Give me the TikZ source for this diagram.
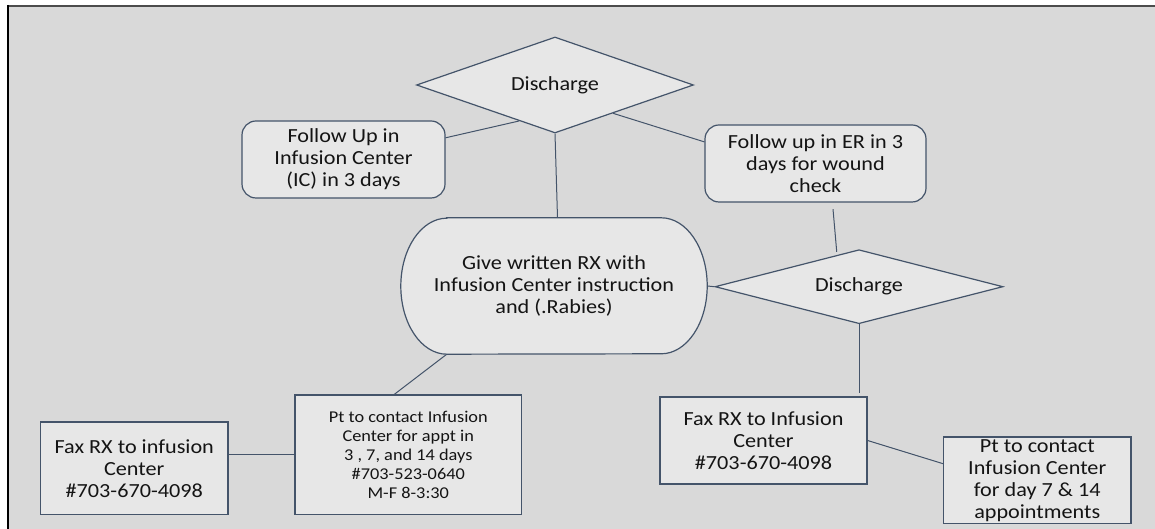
\documentclass[tikz,border=0pt]{standalone}
\usepackage{fontspec}
\setmainfont[FakeStretch=1.11]{Carlito}
\usetikzlibrary{shapes.geometric,backgrounds}
\tikzset{
  shape-line/.style={
    draw=slate,
    line width=1.2pt
  },
  box-rect/.style={
    shape-line,
    fill=boxgray,
    rectangle,
    align=center,
    inner sep=0pt
  },
  box-round/.style={box-rect, rounded corners=14pt},
  box-term/.style={rectangle, align=center, inner sep=0pt},
  box-dec/.style={shape-line, fill=boxgray, diamond, inner sep=0pt},
  small-text/.style={font=\fontsize{16.5}{19}\selectfont},
  link/.style={draw=slate, line width=1pt}
}
\definecolor{pagegray}{RGB}{217,217,217}
\definecolor{boxgray}{RGB}{231,231,231}
\definecolor{slate}{RGB}{68,84,106}
\definecolor{inkgray}{RGB}{20,20,20}

\begin{document}
\begin{tikzpicture}[x=1pt, y=1pt, font=\fontsize{20}{22}\selectfont, text=inkgray]
  \useasboundingbox (0,0) rectangle (1155,529);

  % Frame
  \begin{pgfonlayer}{background}
    \fill[pagegray] (8,0) rectangle (1155,523);
  \end{pgfonlayer}
  \draw[line width=2pt, black!70] (7,523) -- (1155,523);
  \draw[line width=2pt, black] (8,524) -- (8,0);

  % Top decision and follow ups
  \node[box-dec, aspect=2.9, minimum width=277pt, minimum height=96pt] (dis1) at (555,444) {Discharge};
  \node[box-round, minimum width=203pt, minimum height=77pt] (ic) at (343.5,369.5)
    {Follow Up in\\Infusion Center\\(IC) in 3 days};
  \node[box-round, minimum width=221pt, minimum height=77pt] (er) at (815.5,365.5)
    {Follow up in ER in 3\\days for wound\\check};

  % Terminal with oval sides
  \node[box-term, minimum width=306pt, minimum height=136pt] (rx) at (554,243)
    {Give written RX with\\Infusion Center instruction\\and (.Rabies)};
  \begin{pgfonlayer}{background}
    \draw[shape-line, fill=boxgray]
      ([xshift=46pt]rx.north west) -- ([xshift=-46pt]rx.north east)
      arc[start angle=90, end angle=-90, x radius=46pt, y radius=68pt]
      -- ([xshift=46pt]rx.south west)
      arc[start angle=270, end angle=90, x radius=46pt, y radius=68pt] -- cycle;
  \end{pgfonlayer}

  % Second decision
  \node[box-dec, aspect=3.9, minimum width=288pt, minimum height=74pt] (dis2) at (859,242.3) {Discharge};

  % Bottom boxes
  \node[box-rect, minimum width=187.5pt, minimum height=92.5pt] (fax1) at (134.25,60.75)
    {Fax RX to infusion\\Center\\\#703-670-4098};
  \node[box-rect, small-text, minimum width=226.5pt, minimum height=119.5pt] (pt1) at (408.25,74.25)
    {Pt to contact Infusion\\Center for appt in\\3 , 7, and 14 days\\\#703-523-0640\\M-F 8-3:30};
  \node[box-rect, minimum width=207pt, minimum height=87pt] (fax2) at (763.5,88.5)
    {Fax RX to Infusion\\Center\\\#703-670-4098};
  \node[box-rect, minimum width=187.5pt, minimum height=86.6pt] (pt2) at (1037.25,48.7)
    {Pt to contact\\Infusion Center\\for day 7 \& 14\\appointments};

  % Connectors
  \draw[link] (ic.12.5) -- (dis1.225.4);
  \draw[link] (dis1.334) -- (er.169.5);
  \draw[link] (dis1.south) -- ([xshift=3.5pt]rx.north);
  \draw[link] ([xshift=17.5pt,yshift=-6.5pt]er.south) -- ([yshift=3pt]dis2.125);
  \draw[link] (rx.east) -- (dis2.west);
  \draw[link, shorten >=3pt] (dis2.south) -- (dis2.south |- fax2.north);
  \draw[link] ([xshift=46pt]rx.south west) -- ([xshift=-14pt]pt1.north);
  \draw[link] (pt1.west -| fax1.east) -- (pt1.west);
  \draw[link] (fax2.east) -- (pt2.170.7);
\end{tikzpicture}
\end{document}
